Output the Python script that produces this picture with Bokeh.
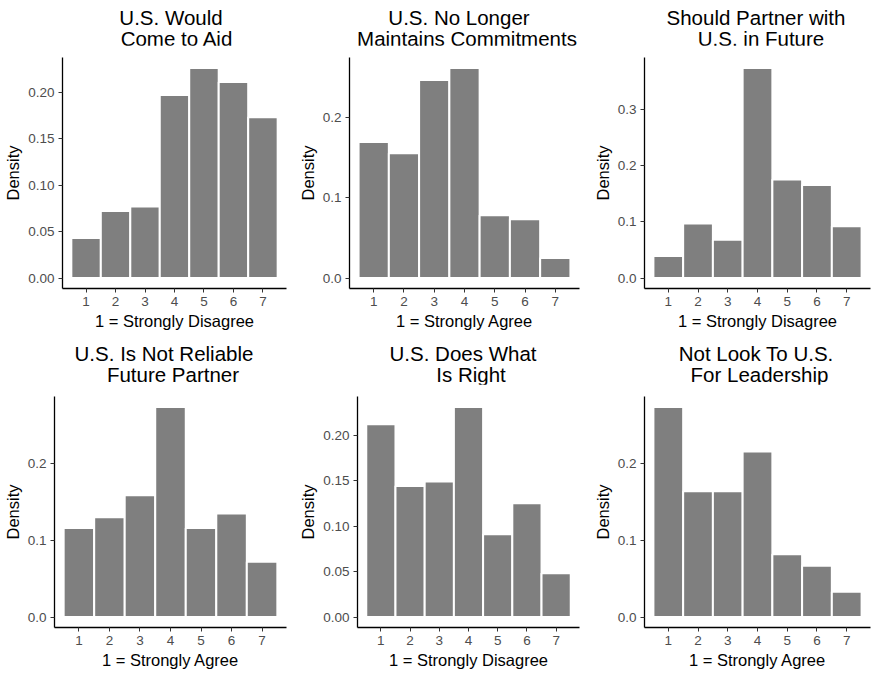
from bokeh.plotting import figure
from bokeh.layouts import row, column
from bokeh.models import Range1d, FixedTicker, PrintfTickFormatter, Div
from bokeh.embed import file_html
from bokeh.resources import INLINE

responses = [1, 2, 3, 4, 5, 6, 7]

title_line1 = [
    "U.S. Would",
    "U.S. No Longer",
    "Should Partner with",
    "U.S. Is Not Reliable",
    "U.S. Does What",
    "Not Look To U.S.",
]
title_line2 = [
    "Come to Aid",
    "Maintains Commitments",
    "U.S. in Future",
    "Future Partner",
    "Is Right",
    "For Leadership",
]
xlabels = [
    "1 = Strongly Disagree",
    "1 = Strongly Agree",
    "1 = Strongly Disagree",
    "1 = Strongly Agree",
    "1 = Strongly Disagree",
    "1 = Strongly Agree",
]

come_to_aid = [0.043, 0.072, 0.077, 0.197, 0.226, 0.211, 0.173]
no_longer_commit = [0.169, 0.155, 0.246, 0.261, 0.078, 0.073, 0.025]
partner_future = [0.039, 0.097, 0.068, 0.373, 0.175, 0.165, 0.092]
not_reliable = [0.116, 0.130, 0.159, 0.274, 0.116, 0.135, 0.072]
does_right = [0.212, 0.144, 0.149, 0.231, 0.091, 0.125, 0.048]
not_look_lead = [0.274, 0.164, 0.164, 0.216, 0.082, 0.067, 0.033]

series = [come_to_aid, no_longer_commit, partner_future,
          not_reliable, does_right, not_look_lead]

y_ticks = [
    [0.0, 0.05, 0.10, 0.15, 0.20],
    [0.0, 0.1, 0.2],
    [0.0, 0.1, 0.2, 0.3],
    [0.0, 0.1, 0.2],
    [0.0, 0.05, 0.10, 0.15, 0.20],
    [0.0, 0.1, 0.2],
]
y_formats = ["%.2f", "%.1f", "%.1f", "%.1f", "%.2f", "%.1f"]

# layout / style settings
FONT = "Liberation Sans"
X_LO, X_HI = 0.2, 7.8
left_borders = [62, 59, 64, 54, 67, 64]
right_borders = [4, 1, 1, 4, 1, 1]
widths = [290, 290, 291, 290, 290, 291]
title_heights = [45, 52]
title_pad_top = [6.6, 11.2]
fig_heights = [287, 287]
bottoms = [42, 41]
line1_dx = [-3, -5, -1, -6, -5, -1]
line2_dx = [2.5, 3, 4, 3, 3, 2.5]

cells = []
for i in range(6):
    r = i // 3
    vals = series[i]
    ymax = max(vals)
    p = figure(width=widths[i], height=fig_heights[r], output_backend="svg",
               toolbar_location=None, tools="", title=None,
               x_range=Range1d(X_LO, X_HI),
               y_range=Range1d(-0.05 * ymax, 1.05 * ymax),
               min_border_left=left_borders[i], min_border_right=right_borders[i],
               min_border_top=12, min_border_bottom=bottoms[r])
    p.vbar(x=responses, top=vals, bottom=0, width=1.0,
           fill_color="#7F7F7F", line_color="white", line_width=2)

    p.grid.visible = False
    p.outline_line_color = None
    p.background_fill_color = "white"
    p.border_fill_color = "white"

    p.xaxis.ticker = FixedTicker(ticks=responses)
    p.yaxis.ticker = FixedTicker(ticks=y_ticks[i])
    p.yaxis.formatter = PrintfTickFormatter(format=y_formats[i])
    p.xaxis.axis_label = xlabels[i]
    p.yaxis.axis_label = "Density"
    for ax in (p.xaxis, p.yaxis):
        ax.axis_label_text_font = FONT
        ax.axis_label_text_font_size = "16.5px"
        ax.axis_label_text_font_style = "normal"
        ax.axis_label_text_color = "black"
        ax.major_label_text_font = FONT
        ax.major_label_text_font_size = "13.5px"
        ax.major_label_text_color = "#4D4D4D"
        ax.axis_line_color = "black"
        ax.axis_line_width = 1.3
        ax.major_tick_line_color = "#333333"
        ax.major_tick_in = 0
        ax.major_tick_out = 4
        ax.minor_tick_line_color = None
        ax.major_label_standoff = 4
        ax.axis_label_standoff = 3

    frame_w = widths[i] - left_borders[i] - right_borders[i]
    html = (
        f'<div style="box-sizing:border-box;width:{frame_w}px;margin:0 0 0 {left_borders[i]}px;'
        f'padding-top:{title_pad_top[r]}px;text-align:center;font-family:\'{FONT}\';'
        f'font-size:20.5px;line-height:21.2px;color:black;white-space:nowrap;">'
        f'<span style="position:relative;left:{line1_dx[i]}px">{title_line1[i]}</span><br>'
        f'<span style="position:relative;left:{line2_dx[i]}px">{title_line2[i]}</span></div>'
    )
    title_div = Div(text=html, width=widths[i], height=title_heights[r], margin=0)
    cells.append(column(title_div, p, spacing=0))

layout = column(row(*cells[:3], spacing=0), row(*cells[3:], spacing=0), spacing=0)
open("out.html", "w").write(file_html(layout, INLINE))
